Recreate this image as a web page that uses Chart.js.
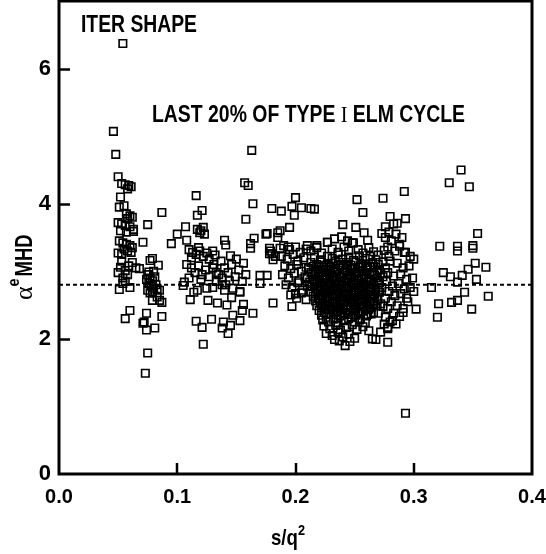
<!DOCTYPE html>
<html>
<head>
<meta charset="utf-8">
<script src="https://cdn.jsdelivr.net/npm/chart.js@4.4.0/dist/chart.umd.min.js"></script>
<style>
  html, body { margin: 0; padding: 0; background: #fff; }
  #wrap { width: 546px; height: 554px; }
</style>
</head>
<body>
<div id="wrap"><canvas id="elm-chart" width="546" height="554"></canvas></div>
<script>
// alpha_MHD vs s/q^2, last 20% of type I ELM cycle

const xTicks = [0.0, 0.1, 0.2, 0.3, 0.4];
const yTicks = [0, 2, 4, 6];
const refLevel = 2.8;

// [s/q^2, alpha_MHD]
const leftSpike = [
  [0.054,6.37],[0.046,5.07],[0.048,4.73],[0.050,4.40],
  [0.053,4.30],[0.056,4.28],[0.059,4.27],[0.058,4.22],[0.061,4.25],[0.052,4.10],
  [0.051,3.95],[0.055,3.97],[0.057,3.85],[0.060,3.82],[0.058,3.78],[0.062,3.80],
  [0.050,3.72],[0.053,3.70],[0.056,3.68],[0.060,3.66],[0.063,3.62],[0.052,3.60],[0.057,3.58],[0.063,3.59],
  [0.051,3.45],[0.054,3.42],[0.057,3.40],[0.060,3.38],[0.055,3.33],[0.058,3.30],[0.062,3.35],[0.050,3.27],[0.053,3.25],[0.061,3.28],
  [0.053,3.15],[0.059,3.08],[0.065,3.05],[0.052,3.06],[0.056,3.01],[0.062,3.13],[0.050,2.98],[0.058,2.95],[0.054,2.90],
  [0.051,2.73],[0.054,2.82],[0.060,2.76],[0.056,2.85],[0.060,2.42],[0.056,2.30]
];

const leftLobe = [
  [0.071,3.43],[0.068,3.04],[0.075,3.69],[0.087,3.87],[0.077,3.16],[0.084,3.09],[0.079,3.19],
  [0.075,2.95],[0.077,2.90],[0.079,2.86],[0.076,2.82],[0.078,2.78],[0.080,2.75],[0.075,2.72],[0.077,2.68],
  [0.081,2.92],[0.082,2.80],[0.079,2.70],[0.074,2.88],[0.083,2.74],[0.076,2.99],[0.080,3.00],
  [0.085,2.72],[0.085,2.57],[0.079,2.57],[0.083,2.62],[0.087,2.54],
  [0.074,2.38],[0.072,2.25],[0.071,2.23],[0.074,2.13],[0.081,2.16],[0.087,2.33],[0.075,1.79],[0.073,1.49],
  [0.095,3.41],[0.100,3.55]
];

const midLobe = [
  [0.116,4.12],[0.121,3.90],[0.117,3.83],[0.107,3.66],[0.117,3.62],[0.120,3.60],[0.122,3.65],[0.119,3.57],[0.123,3.55],[0.108,3.46],
  [0.110,3.32],[0.113,3.28],[0.116,3.25],[0.119,3.30],[0.122,3.22],[0.125,3.27],[0.112,3.20],[0.118,3.35],[0.127,3.18],[0.130,3.30],[0.132,3.24],
  [0.108,3.10],[0.112,3.05],[0.115,2.98],[0.118,3.08],[0.121,2.95],[0.124,3.02],[0.127,2.92],[0.130,3.05],[0.133,2.98],[0.110,2.90],[0.120,2.88],
  [0.106,2.84],[0.105,2.79],[0.114,2.69],[0.111,2.58],[0.117,2.72],[0.125,2.75],[0.126,2.57],[0.130,2.76],
  [0.116,2.26],[0.121,2.17],[0.129,2.29],[0.122,1.92],
  [0.131,3.10],[0.135,2.95],[0.138,2.80],[0.133,2.85],[0.140,2.72],
  [0.140,3.46],[0.141,3.39],[0.145,3.23],
  [0.137,3.15],[0.140,3.05],[0.143,2.98],[0.146,3.10],[0.149,2.92],[0.152,3.02],[0.155,2.85],[0.158,2.95],
  [0.141,2.80],[0.147,2.75],[0.153,2.70],[0.138,2.90],[0.150,3.18],[0.156,3.12],[0.144,2.86],
  [0.134,2.53],[0.142,2.50],[0.146,2.61],[0.153,2.69],[0.156,2.51],[0.164,2.38],
  [0.139,2.25],[0.138,2.16],[0.143,2.08],[0.145,2.20],[0.147,2.35],[0.153,2.27],[0.155,2.42]
];

const centerUpper = [
  [0.163,4.79],[0.157,4.31],[0.160,4.27],[0.164,4.00],[0.158,3.77],[0.180,3.93],[0.188,3.89],
  [0.200,4.09],[0.197,3.96],[0.205,3.94],[0.199,3.83],[0.213,3.93],[0.216,3.92],
  [0.195,3.65],[0.185,3.57],[0.185,3.50],[0.175,3.55],[0.165,3.49],[0.162,3.41],[0.162,3.34],
  [0.176,3.56],[0.187,3.60],[0.178,3.34],[0.180,3.26],[0.194,3.36],
  [0.170,2.94],[0.176,2.94],[0.170,2.82],[0.181,2.53],[0.197,2.48],[0.200,2.67],[0.178,3.26],
  [0.179,3.30],[0.183,3.22],[0.187,3.34],[0.181,3.17],
  [0.252,4.06],[0.274,4.08],[0.257,3.87],[0.280,3.81],[0.286,3.71],[0.240,3.69],[0.251,3.65],
  [0.258,3.57],[0.239,3.51],[0.248,3.42],[0.273,3.56],[0.276,3.50],[0.261,3.46],[0.227,3.43],
  [0.210,3.38],[0.218,3.35],[0.292,4.18],[0.293,3.78]
];

const coreEdge = [
  [0.190,3.38],[0.195,3.32],[0.200,3.36],[0.204,3.28],[0.209,3.33],[0.188,3.22],[0.193,3.18],[0.198,3.25],[0.202,3.15],[0.207,3.20],
  [0.191,3.08],[0.196,3.04],[0.201,3.10],[0.205,3.00],[0.209,3.06],[0.189,2.95],[0.194,2.90],[0.199,2.97],[0.203,2.86],[0.208,2.92],
  [0.192,2.80],[0.197,2.76],[0.202,2.83],[0.206,2.72],[0.210,2.78],[0.196,2.65],[0.201,2.60],[0.205,2.68],[0.209,2.58],[0.200,2.67],
  [0.213,3.30],[0.218,3.38],[0.222,3.27],[0.227,3.43],[0.231,3.33],[0.236,3.28],[0.241,3.36],[0.245,3.30],[0.249,3.42],
  [0.253,3.32],[0.257,3.27],[0.262,3.35],[0.266,3.29],[0.270,3.24],[0.275,3.31],[0.279,3.22],[0.233,3.48],[0.244,3.45]
];

const coreBody = [
  [0.216,3.21],[0.221,3.17],[0.227,3.22],[0.231,3.19],[0.236,3.24],[0.240,3.18],[0.245,3.21],[0.249,3.16],[0.254,3.23],[0.259,3.19],[0.263,3.22],[0.268,3.17],
  [0.213,3.13],[0.218,3.10],[0.222,3.14],[0.226,3.09],[0.230,3.12],[0.234,3.15],[0.238,3.10],[0.243,3.13],[0.247,3.09],[0.251,3.14],[0.256,3.11],[0.260,3.08],[0.265,3.13],[0.270,3.10],[0.274,3.14],
  [0.211,3.04],[0.215,3.07],[0.219,3.02],[0.224,3.06],[0.228,3.03],[0.232,3.07],[0.236,3.02],[0.240,3.05],[0.244,3.08],[0.248,3.03],[0.253,3.06],[0.257,3.01],[0.261,3.05],[0.266,3.07],[0.271,3.02],[0.276,3.05],
  [0.213,2.98],[0.217,2.95],[0.221,2.99],[0.225,2.94],[0.229,2.97],[0.233,3.00],[0.237,2.95],[0.241,2.98],[0.246,2.93],[0.250,2.97],[0.254,3.00],[0.258,2.95],[0.263,2.98],[0.267,2.94],[0.272,2.97],
  [0.210,2.91],[0.215,2.88],[0.219,2.92],[0.223,2.87],[0.227,2.90],[0.231,2.93],[0.235,2.88],[0.239,2.91],[0.243,2.86],[0.247,2.90],[0.252,2.93],[0.256,2.88],[0.260,2.91],[0.264,2.86],[0.269,2.90],[0.274,2.92],
  [0.212,2.84],[0.216,2.81],[0.220,2.85],[0.224,2.80],[0.228,2.83],[0.233,2.86],[0.237,2.81],[0.241,2.84],[0.245,2.79],[0.249,2.83],[0.253,2.86],[0.257,2.81],[0.262,2.84],[0.266,2.80],[0.271,2.83],
  [0.214,2.77],[0.218,2.74],[0.222,2.78],[0.226,2.73],[0.230,2.76],[0.234,2.79],[0.238,2.74],[0.243,2.77],[0.247,2.72],[0.251,2.76],[0.255,2.79],[0.259,2.74],[0.264,2.77],[0.268,2.73],[0.273,2.76],
  [0.213,2.70],[0.217,2.67],[0.221,2.71],[0.225,2.66],[0.229,2.69],[0.233,2.72],[0.237,2.67],[0.241,2.70],[0.245,2.65],[0.250,2.69],[0.254,2.72],[0.258,2.67],[0.262,2.70],[0.267,2.66],[0.271,2.69],
  [0.215,2.63],[0.219,2.60],[0.223,2.64],[0.227,2.59],[0.231,2.62],[0.235,2.65],[0.239,2.60],[0.243,2.63],[0.248,2.58],[0.252,2.62],[0.256,2.65],[0.260,2.60],[0.265,2.63],[0.269,2.59],
  [0.217,2.56],[0.221,2.53],[0.225,2.57],[0.229,2.52],[0.233,2.55],[0.237,2.58],[0.241,2.53],[0.246,2.56],[0.250,2.51],[0.254,2.55],[0.258,2.58],[0.263,2.53],[0.267,2.56],[0.272,2.52],
  [0.218,2.49],[0.222,2.46],[0.226,2.50],[0.230,2.45],[0.234,2.48],[0.238,2.51],[0.243,2.46],[0.247,2.49],[0.251,2.44],[0.255,2.48],[0.260,2.51],[0.264,2.46],[0.269,2.49],
  [0.220,2.42],[0.224,2.39],[0.228,2.43],[0.232,2.38],[0.236,2.41],[0.240,2.44],[0.245,2.39],[0.249,2.42],[0.253,2.37],[0.257,2.41],[0.262,2.44],[0.266,2.39],
  [0.222,2.35],[0.226,2.32],[0.230,2.36],[0.234,2.31],[0.238,2.34],[0.242,2.37],[0.247,2.32],[0.251,2.35],[0.255,2.30],[0.260,2.34],[0.264,2.37],
  [0.223,2.28],[0.228,2.25],[0.232,2.29],[0.236,2.24],[0.241,2.27],[0.245,2.30],[0.250,2.25],[0.254,2.28],[0.259,2.24]
];

const coreFill = [
  [0.220,3.08],[0.229,3.06],[0.238,3.09],[0.246,3.05],[0.255,3.08],[0.263,3.06],
  [0.217,3.00],[0.226,3.02],[0.234,2.99],[0.243,3.01],[0.251,2.99],[0.260,3.02],[0.269,3.00],
  [0.220,2.93],[0.229,2.95],[0.238,2.92],[0.247,2.95],[0.256,2.93],[0.265,2.95],
  [0.218,2.86],[0.226,2.88],[0.235,2.85],[0.244,2.88],[0.253,2.85],[0.262,2.88],[0.270,2.86],
  [0.221,2.79],[0.230,2.81],[0.239,2.78],[0.248,2.81],[0.257,2.78],[0.266,2.80],
  [0.219,2.72],[0.228,2.74],[0.236,2.71],[0.245,2.74],[0.254,2.71],[0.263,2.74],[0.270,2.72],
  [0.222,2.65],[0.231,2.67],[0.240,2.64],[0.249,2.67],[0.257,2.64],[0.266,2.66],
  [0.220,2.58],[0.229,2.60],[0.238,2.57],[0.247,2.60],[0.256,2.57],[0.264,2.60],
  [0.223,2.51],[0.232,2.53],[0.240,2.50],[0.249,2.53],[0.258,2.50],[0.266,2.52],
  [0.225,2.44],[0.234,2.46],[0.243,2.43],[0.251,2.46],[0.260,2.43],
  [0.226,2.37],[0.235,2.39],[0.244,2.36],[0.253,2.39],[0.261,2.36],
  [0.224,2.19],[0.229,2.15],[0.234,2.20],[0.238,2.13],[0.243,2.17],[0.248,2.21],[0.252,2.14],[0.257,2.18],
  [0.226,2.08],[0.231,2.05],[0.236,2.10],[0.240,2.03],[0.245,2.07],[0.250,2.01],[0.237,1.97],[0.242,1.90],
  [0.246,1.96],[0.265,2.00],[0.268,1.99],[0.278,1.95],[0.278,2.17],[0.280,2.25],[0.262,2.12],[0.233,1.99]
];

const rightEdge = [
  [0.276,3.66],[0.283,3.70],[0.279,3.58],[0.285,3.55],[0.290,3.50],[0.281,3.45],[0.288,3.40],[0.278,3.36],[0.284,3.30],
  [0.292,3.28],[0.297,3.22],[0.280,3.15],[0.286,3.12],[0.291,3.05],[0.296,3.08],[0.278,2.98],[0.283,2.93],[0.289,2.96],
  [0.294,2.88],[0.299,2.90],[0.277,2.85],[0.282,2.78],[0.287,2.82],[0.292,2.74],[0.297,2.76],[0.279,2.70],[0.284,2.64],
  [0.289,2.67],[0.294,2.60],[0.276,2.60],[0.281,2.55],[0.286,2.49],[0.291,2.45],[0.278,2.45],[0.283,2.38],[0.288,2.33],
  [0.276,2.32],[0.285,2.22],[0.275,2.22],[0.272,2.10],[0.270,2.38],[0.274,2.48],
  [0.300,3.18],[0.288,3.37],[0.293,3.28],[0.300,2.70],[0.302,2.44],[0.291,2.39],[0.295,2.55],[0.282,2.27],[0.278,2.15]
];

const rightCluster = [
  [0.340,4.50],[0.330,4.31],[0.347,4.25],[0.354,3.56],[0.322,3.37],[0.337,3.37],[0.337,3.30],[0.350,3.38],[0.350,3.34],
  [0.352,3.12],[0.361,3.06],[0.346,3.03],[0.325,2.98],[0.331,2.92],[0.341,2.94],[0.353,2.88],[0.337,2.84],[0.315,2.76],
  [0.363,2.63],[0.343,2.69],[0.332,2.54],[0.337,2.57],[0.321,2.52],[0.349,2.44],[0.320,2.32],
  [0.293,0.90]
];

const allPoints = [].concat(leftSpike, leftLobe, midLobe, centerUpper, coreEdge, coreBody, coreFill, rightEdge, rightCluster)
  .map(p => ({ x: p[0], y: p[1] }));

const FONT = "'Liberation Sans', Arial, sans-serif";

// draws bold condensed text squeezed to a given width
function squeezeText(ctx, parts, x, y, width) {
  let natural = 0;
  parts.forEach(p => { ctx.font = p.font; natural += ctx.measureText(p.text).width; });
  ctx.save();
  ctx.translate(x, y);
  ctx.scale(width / natural, 1);
  let cx = 0;
  parts.forEach(p => {
    ctx.font = p.font;
    ctx.fillText(p.text, cx, p.dy || 0);
    cx += ctx.measureText(p.text).width;
  });
  ctx.restore();
}

// frame, inward ticks and the free text
const decorPlugin = {
  id: 'decor',
  afterDraw(chart) {
    const ctx = chart.ctx;
    const a = chart.chartArea;
    const xs = chart.scales.x;
    const ys = chart.scales.y;
    ctx.save();
    ctx.strokeStyle = '#000';
    ctx.lineWidth = 3;
    ctx.strokeRect(a.left, a.top, a.right - a.left, a.bottom - a.top);

    ctx.lineWidth = 2.5;
    ctx.beginPath();
    yTicks.forEach(v => {
      if (v === 0) return;
      const py = Math.round(ys.getPixelForValue(v)) + 0.5;
      ctx.moveTo(a.left, py);
      ctx.lineTo(a.left + 11, py);
    });
    xTicks.forEach(v => {
      if (v === 0 || v === 0.4) return;
      const px = Math.round(xs.getPixelForValue(v));
      ctx.moveTo(px, a.bottom);
      ctx.lineTo(px, a.bottom - 11);
    });
    ctx.stroke();

    ctx.fillStyle = '#000';
    ctx.textBaseline = 'alphabetic';
    ctx.textAlign = 'left';
    const bold = 'bold 23px ' + FONT;
    squeezeText(ctx, [{ text: 'ITER SHAPE', font: bold }], 81, 32, 116);

    squeezeText(ctx, [
      { text: 'LAST 20% OF TYPE ', font: bold },
      { text: 'I', font: '24px "Liberation Serif", serif' },
      { text: ' ELM CYCLE', font: bold }
    ], 152, 122, 313);

    // x title s/q^2
    squeezeText(ctx, [
      { text: 's/q', font: 'bold 22px ' + FONT },
      { text: '2', font: 'bold 15px ' + FONT, dy: -10 }
    ], 271, 545, 34);

    // y title alpha^e MHD, rotated
    ctx.translate(32, 300);
    ctx.rotate(-Math.PI / 2);
    ctx.font = '26px "Liberation Serif", serif';
    ctx.fillText('\u03b1', 0, 0);
    const lx = ctx.measureText('\u03b1').width;
    squeezeText(ctx, [{ text: 'e', font: 'bold 17px ' + FONT }], lx, -13, 8);
    squeezeText(ctx, [{ text: 'MHD', font: 'bold 24px ' + FONT }], lx + 10, 0, 42);
    ctx.restore();
  }
};

// keep the plot box fixed: no extra room for the end labels
function noEdgePadding(s) {
  s.paddingTop = 0;
  s.paddingBottom = 0;
  s.paddingLeft = 0;
  s.paddingRight = 0;
}

const ctx = document.getElementById('elm-chart');

new Chart(ctx, {
  type: 'scatter',
  data: {
    datasets: [
      {
        label: 'alpha MHD',
        data: allPoints,
        pointStyle: 'rect',
        pointRadius: 5.3,
        borderColor: '#000',
        borderWidth: 1.6,
        backgroundColor: 'rgba(0,0,0,0)'
      },
      {
        label: 'mean',
        type: 'line',
        data: [{ x: xTicks[0], y: refLevel }, { x: xTicks[xTicks.length - 1], y: refLevel }],
        borderColor: '#000',
        borderWidth: 2,
        borderDash: [4, 3],
        pointRadius: 0,
        fill: false
      }
    ]
  },
  options: {
    responsive: false,
    animation: false,
    events: [],
    layout: { autoPadding: false, padding: { top: 1, right: 14, left: 0, bottom: 0 } },
    plugins: {
      legend: { display: false },
      tooltip: { enabled: false }
    },
    scales: {
      x: {
        type: 'linear',
        min: 0,
        max: 0.4,
        grid: { display: false, drawTicks: false },
        border: { display: false },
        ticks: {
          stepSize: 0.1,
          includeBounds: false,
          padding: 11,
          color: '#000',
          font: { family: FONT, size: 20, weight: 'bold' },
          callback: v => v.toFixed(1)
        },
        afterFit: s => { s.height = 80; noEdgePadding(s); }
      },
      y: {
        type: 'linear',
        min: 0,
        max: 7,
        grid: { display: false, drawTicks: false },
        border: { display: false },
        ticks: {
          stepSize: 2,
          includeBounds: false,
          padding: 8,
          color: '#000',
          font: { family: FONT, size: 22, weight: 'bold' }
        },
        afterFit: s => { s.width = 59; noEdgePadding(s); }
      }
    }
  },
  plugins: [decorPlugin]
});
</script>
</body>
</html>
